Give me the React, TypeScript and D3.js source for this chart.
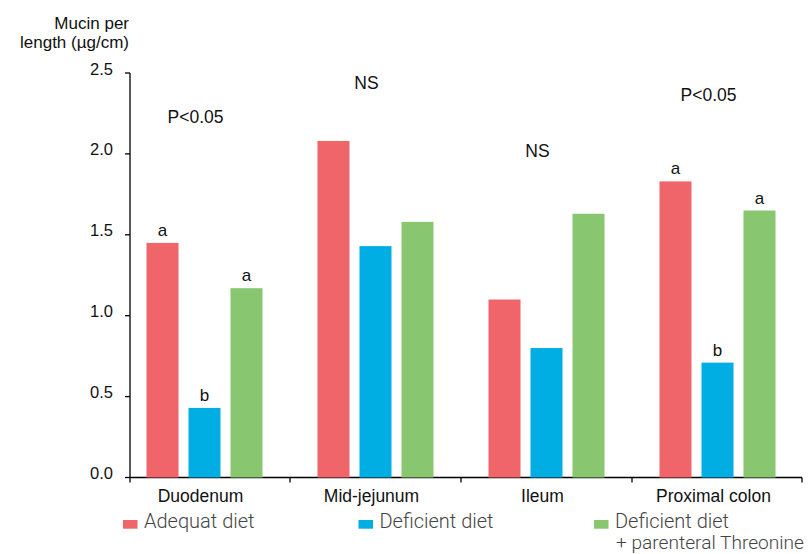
import React from "react";
import * as d3 from "d3";

// Intestinal segments
const categories = ["Duodenum", "Mid-jejunum", "Ileum", "Proximal colon"];

// Mucin per length (µg/cm) for each diet
const adequateDiet = [1.45, 2.08, 1.1, 1.83];
const deficientDiet = [0.43, 1.43, 0.8, 0.71];
const deficientThreonine = [1.17, 1.58, 1.63, 1.65];

// Significance letters per bar
const adequateLetters = ["a", "", "", "a"];
const deficientLetters = ["b", "", "", "b"];
const threonineLetters = ["a", "", "", "a"];

// Overall test result per segment
const significance = ["P<0.05", "NS", "NS", "P<0.05"];

const yTicks = [0, 0.5, 1.0, 1.5, 2.0, 2.5];

const series = [
  { key: "adequate", name: "Adequat diet", values: adequateDiet, letters: adequateLetters, color: "#F0656A" },
  { key: "deficient", name: "Deficient diet", values: deficientDiet, letters: deficientLetters, color: "#00AEE3" },
  { key: "threonine", name: "Deficient diet", name2: "+ parenteral Threonine", values: deficientThreonine, letters: threonineLetters, color: "#88C770" },
];

// Layout
const W = 811;
const H = 554;
const axisLeft = 130;
const axisRight = 802;
const axisTop = 73;
const axisBottom = 477.5;
const sigLabelLevel = [2.19, 2.4, 1.98, 2.33];
const FONT = "'Liberation Sans', Arial, Helvetica, sans-serif";

export default function App() {
  const y = d3.scaleLinear().domain([0, 2.5]).range([axisBottom, axisTop]);
  const x = d3.scaleBand<string>().domain(categories).range([119, 803]);
  const inner = d3
    .scaleBand<string>()
    .domain(series.map((s) => s.key))
    .range([-58, 58])
    .paddingInner(10 / 42)
    .paddingOuter(0);

  const center = (c: string) => (x(c) as number) + x.bandwidth() / 2;
  const boundaries = categories.slice(1).map((c) => x(c) as number).concat([axisRight]);

  return (
    <svg
      width={W}
      height={H}
      style={{ position: "absolute", left: 0, top: 0, background: "#fff" }}
      fontFamily={FONT}
    >
      {/* y-axis title */}
      <text x={129} y={29} textAnchor="end" fontSize={17} fill="#111">Mucin per</text>
      <text x={129} y={48} textAnchor="end" fontSize={17} fill="#111">length (µg/cm)</text>

      {/* y axis */}
      <line x1={axisLeft} x2={axisLeft} y1={axisTop} y2={axisBottom} stroke="#000" strokeWidth={1.3} />
      {yTicks.map((t) => (
        <g key={t}>
          <line x1={axisLeft - 5} x2={axisLeft} y1={y(t)} y2={y(t)} stroke="#000" strokeWidth={1.3} />
          <text x={113} y={y(t) + 1.5} textAnchor="end" fontSize={16.5} fill="#111">
            {d3.format(".1f")(t)}
          </text>
        </g>
      ))}

      {/* x axis */}
      <line x1={axisLeft} x2={axisRight} y1={axisBottom} y2={axisBottom} stroke="#000" strokeWidth={1.3} />
      {[axisLeft, ...boundaries].map((bx, i) => (
        <line key={i} x1={bx} x2={bx} y1={axisBottom} y2={axisBottom + 5} stroke="#000" strokeWidth={1.3} />
      ))}
      {categories.map((c) => (
        <text key={c} x={center(c) - 4} y={501.5} textAnchor="middle" fontSize={17.5} fill="#111">
          {c}
        </text>
      ))}

      {/* bars */}
      {series.map((s) =>
        categories.map((c, i) => {
          const bx = center(c) + (inner(s.key) as number);
          const v = s.values[i];
          return (
            <g key={s.key + c}>
              <rect x={bx} y={y(v)} width={inner.bandwidth()} height={axisBottom - y(v)} fill={s.color} />
              {s.letters[i] && (
                <text x={bx + inner.bandwidth() / 2} y={y(v) - 7} textAnchor="middle" fontSize={17} fill="#111">
                  {s.letters[i]}
                </text>
              )}
            </g>
          );
        })
      )}

      {/* significance */}
      {categories.map((c, i) => (
        <text key={c} x={center(c) - 9} y={y(sigLabelLevel[i])} textAnchor="middle" fontSize={17.5} fill="#111">
          {significance[i]}
        </text>
      ))}

      {/* legend */}
      {series.map((s, i) => {
        const lx = 123 + i * 235.5;
        return (
          <g key={s.key}>
            <rect x={lx} y={520} width={14.5} height={8.7} fill={s.color} />
            <text x={lx + 21} y={528} fontSize={20} fill="#444" fontFamily="Roboto, sans-serif" fontWeight={300}>
              {s.name}
            </text>
            {s.name2 && (
              <text
                x={lx + 22}
                y={549}
                fontSize={18}
                fill="#444"
                fontFamily="Roboto, sans-serif"
                fontWeight={300}
                textLength={188}
                lengthAdjust="spacingAndGlyphs"
              >
                {s.name2}
              </text>
            )}
          </g>
        );
      })}
    </svg>
  );
}
